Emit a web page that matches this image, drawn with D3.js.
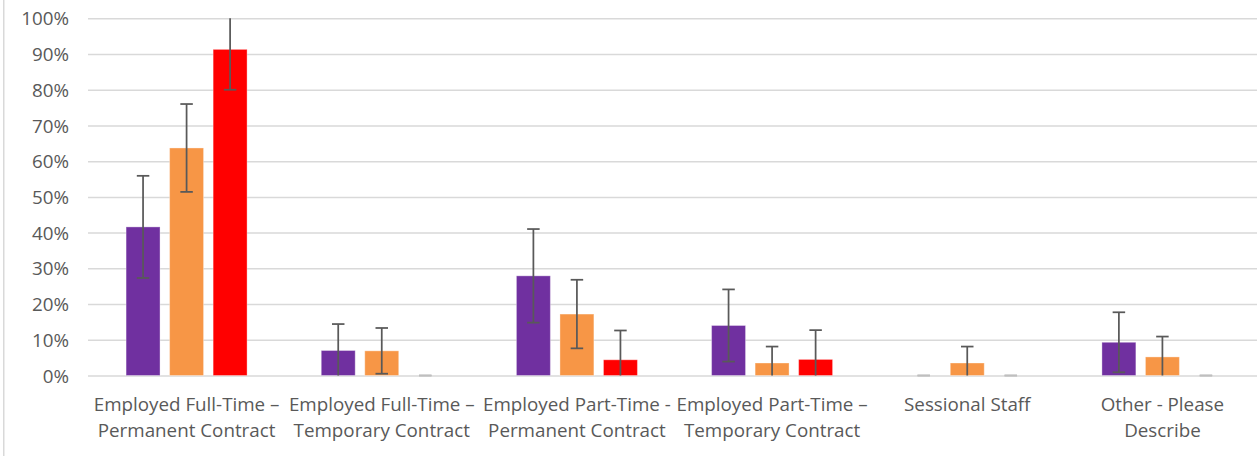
<!DOCTYPE html>
<html><head><meta charset="utf-8">
<script src="https://cdn.jsdelivr.net/npm/d3@7"></script>
<style>
html,body{margin:0;padding:0;background:#fff;}
svg{display:block;}
</style></head>
<body>
<svg id="chart" width="1258" height="456"></svg>
<script>
const categories = [
  ["Employed Full-Time \u2013", "Permanent Contract"],
  ["Employed Full-Time \u2013", "Temporary Contract"],
  ["Employed Part-Time -", "Permanent Contract"],
  ["Employed Part-Time \u2013", "Temporary Contract"],
  ["Sessional Staff"],
  ["Other - Please", "Describe"]
];
const seriesNames = ["Series A", "Series B", "Series C"];
const seriesColors = ["#7030A0", "#F79646", "#FF0000"];
const seriesA = [0.416, 0.070, 0.279, 0.140, 0.000, 0.093];
const seriesB = [0.637, 0.069, 0.172, 0.035, 0.035, 0.052];
const seriesC = [0.913, 0.000, 0.044, 0.045, 0.000, 0.000];
const errorA = [0.143, 0.074, 0.131, 0.101, 0.000, 0.084];
const errorB = [0.123, 0.064, 0.096, 0.046, 0.046, 0.057];
const errorC = [0.113, 0.000, 0.082, 0.082, 0.000, 0.000];
const yTicks = [0, 0.1, 0.2, 0.3, 0.4, 0.5, 0.6, 0.7, 0.8, 0.9, 1.0];

const values = [seriesA, seriesB, seriesC];
const errors = [errorA, errorB, errorC];

const svg = d3.select("#chart");
const gridLeft = 88, gridRight = 1257, mTop = 18.3, mBottom = 375.5;
const bandLeft = 89, bandRight = 1260;
const font = "'Open Sans', sans-serif";
const fontSize = 18.8;
const textColor = "#595959";

// chart frame left border
svg.append("line").attr("x1", 3.75).attr("x2", 3.75).attr("y1", 0).attr("y2", 456)
  .attr("stroke", "#D9D9D9").attr("stroke-width", 1.5);

const y = d3.scaleLinear().domain([0, 1]).range([mBottom, mTop]);
const x0 = d3.scaleBand().domain(d3.range(categories.length)).range([bandLeft, bandRight]).paddingInner(0).paddingOuter(0);
const groupW = 121;
const x1 = d3.scaleBand().domain(d3.range(seriesNames.length)).range([0, groupW]).paddingInner(0.22).paddingOuter(0);

// gridlines via axis
const gridAxis = d3.axisLeft(y).tickValues(yTicks).tickSize(-(gridRight - gridLeft)).tickFormat("");
const gg = svg.append("g").attr("transform", `translate(${gridLeft},0)`).call(gridAxis);
gg.select(".domain").remove();
gg.selectAll(".tick line").attr("stroke", "#D9D9D9").attr("stroke-width", 1.5);

// y labels
const yAxis = d3.axisLeft(y).tickValues(yTicks).tickSize(0).tickPadding(0).tickFormat(d3.format(".0%"));
const ya = svg.append("g").attr("transform", `translate(69,0)`).call(yAxis);
ya.select(".domain").remove();
ya.selectAll(".tick text").attr("font-family", font).attr("font-size", fontSize).attr("fill", textColor).attr("dy", "0.35em");

// bars
const groups = svg.append("g").selectAll("g").data(categories).join("g")
  .attr("transform", (d, i) => `translate(${x0(i) + (x0.bandwidth() - groupW) / 2},0)`);

groups.each(function(cat, ci) {
  const g = d3.select(this);
  values.forEach((vals, si) => {
    const v = vals[ci];
    if (v > 0) {
      g.append("rect")
        .attr("x", x1(si)).attr("width", x1.bandwidth())
        .attr("y", y(v)).attr("height", y(0) - y(v))
        .attr("fill", seriesColors[si])
        .attr("stroke", "#fff").attr("stroke-opacity", 0.35).attr("stroke-width", 1);
    }
  });
  values.forEach((vals, si) => {
    const v = vals[ci], e = errors[si][ci];
    const cx = x1(si) + x1.bandwidth() / 2;
    const lo = Math.max(0, v - e), hi = Math.min(1, v + e);
    const col = (v === 0) ? "#BFBFBF" : "#595959";
    if (hi > lo) {
      g.append("line").attr("x1", cx).attr("x2", cx).attr("y1", y(lo)).attr("y2", y(hi))
        .attr("stroke", col).attr("stroke-width", 1.75);
    }
    const caps = [];
    if (v - e >= 0) caps.push(v - e);
    if (v + e <= 1) caps.push(v + e);
    caps.forEach(c => {
      g.append("line").attr("x1", cx - 6.25).attr("x2", cx + 6.25).attr("y1", y(c)).attr("y2", y(c))
        .attr("stroke", col).attr("stroke-width", 1.75);
    });
  });
});

// x labels
categories.forEach((lines, i) => {
  const cx = x0(i) + x0.bandwidth() / 2;
  const t = svg.append("text").attr("x", cx).attr("y", 410.5)
    .attr("text-anchor", "middle").attr("font-family", font).attr("font-size", fontSize).attr("fill", textColor);
  lines.forEach((l, li) => {
    t.append("tspan").attr("x", cx).attr("dy", li === 0 ? 0 : 26).text(l);
  });
});
</script>
</body></html>
